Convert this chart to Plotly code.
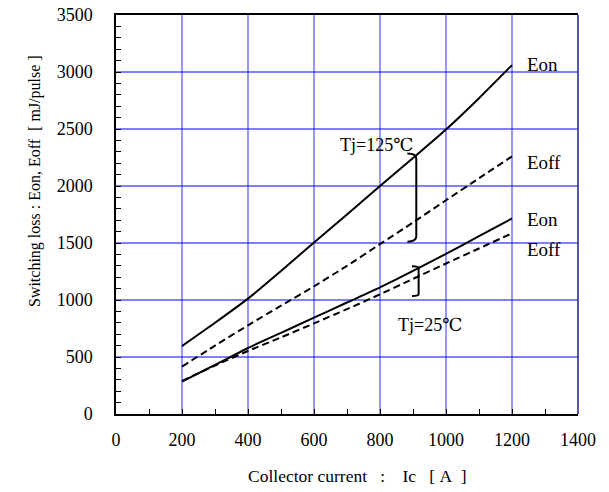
import plotly.graph_objects as go

# ---- data ----
ic = [200, 300, 400, 500, 600, 700, 800, 900, 1000, 1100, 1200]
eon_125 = [596, 800, 1012, 1255, 1505, 1750, 2000, 2245, 2495, 2770, 3060]
eoff_125 = [416, 600, 778, 950, 1120, 1300, 1490, 1680, 1875, 2068, 2260]
eon_25 = [284, 430, 579, 712, 845, 978, 1110, 1255, 1405, 1560, 1715]
eoff_25 = [290, 425, 553, 672, 795, 920, 1050, 1185, 1320, 1452, 1585]

x_ticks = [0, 200, 400, 600, 800, 1000, 1200, 1400]
y_ticks = [0, 500, 1000, 1500, 2000, 2500, 3000, 3500]

# curve end labels
end_labels = [("Eon", 3070), ("Eoff", 2205), ("Eon", 1705), ("Eoff", 1445)]
label_x = 1240

# brackets: (x, top, bottom, hook)
bracket_125 = (910, 2285, 1512, 27)
bracket_25 = (917, 1296, 1035, 20)
tj_labels = [("Tj=125℃", 790, 2360), ("Tj=25℃", 952, 785)]

NB = "\u00a0"
y_title = f"Switching loss{NB}:{NB}Eon, Eoff{NB}{NB}[{NB}mJ/pulse{NB}]"
x_title = f"Collector current{NB*2} :{NB*3} Ic{NB*2} [{NB}A{NB*2}]"

FONT = "Times New Roman, Liberation Serif, DejaVu Serif, serif"

fig = go.Figure()
solid = dict(color="black", width=2)
dashed = dict(color="black", width=2, dash="7px,4px")
for y, ln in [(eon_125, solid), (eoff_125, dashed), (eon_25, solid), (eoff_25, dashed)]:
    fig.add_trace(go.Scatter(x=ic, y=y, mode="lines", line=dict(ln, shape="spline", smoothing=0.6),
                             showlegend=False, hoverinfo="skip"))

for txt, yv in end_labels:
    fig.add_annotation(x=label_x, y=yv, text=txt, showarrow=False, xanchor="left",
                       xref="x", yref="y", font=dict(family=FONT, size=19, color="black"))
for txt, xv, yv in tj_labels:
    fig.add_annotation(x=xv, y=yv, text=txt, showarrow=False, xref="x", yref="y",
                       font=dict(family=FONT, size=18, color="black"))

def bracket_path(x, top, bot, hook):
    r = (top - bot) * 0.06
    return (f"M {x-hook},{top} Q {x},{top} {x},{top-r} L {x},{bot+r} "
            f"Q {x},{bot} {x-hook},{bot}")

for bx, bt, bb, bh in [bracket_125, bracket_25]:
    fig.add_shape(type="path", path=bracket_path(bx, bt, bb, bh), xref="x", yref="y",
                  line=dict(color="black", width=2))

# vertical grid (lighter blue)
for xv in x_ticks[1:-1]:
    fig.add_shape(type="line", x0=xv, x1=xv, y0=0, y1=3500, xref="x", yref="y",
                  line=dict(color="#7373ff", width=1.5), layer="below")
# horizontal grid (pure blue)
for yv in y_ticks[1:-1]:
    fig.add_shape(type="line", x0=0, x1=1400, y0=yv, y1=yv, xref="x", yref="y",
                  line=dict(color="#0000ff", width=1.2), layer="below")
# right border (navy)
fig.add_shape(type="line", x0=1, x1=1, y0=0, y1=1, xref="paper", yref="paper",
              line=dict(color="#22228a", width=1.5))

fig.add_annotation(text=y_title, textangle=-90,
                   x=-0.199, y=0.584, xref="paper", yref="paper", showarrow=False,
                   font=dict(family=FONT, size=16, color="black"))
fig.add_annotation(text=x_title,
                   x=0.523, y=-0.155, xref="paper", yref="paper", showarrow=False,
                   yanchor="middle", font=dict(family=FONT, size=17.5, color="black"))

axis_common = dict(showgrid=False, zeroline=False, showline=True, linecolor="black",
                   linewidth=1.5, ticks="inside", ticklen=5, tickcolor="black",
                   automargin=False,
                   tickfont=dict(family=FONT, size=18, color="black"))
fig.update_xaxes(range=[0, 1400], tickvals=x_ticks, mirror=True, ticklabelstandoff=9,
                 minor=dict(ticks="inside", ticklen=5, tickcolor="black", dtick=100, tick0=0),
                 **axis_common)
fig.update_yaxes(range=[0, 3500], tickvals=y_ticks, mirror=False, ticklabelstandoff=18,
                 minor=dict(ticks="inside", ticklen=5, tickcolor="black", dtick=100, tick0=0),
                 **axis_common)

fig.update_layout(width=609, height=492, margin=dict(l=116, r=31, t=15, b=78),
                  plot_bgcolor="white", paper_bgcolor="white",
                  font=dict(family=FONT, color="black"))
fig.write_html("out.html", config={"displayModeBar": False},
               post_script="document.body.style.margin='0px';")
